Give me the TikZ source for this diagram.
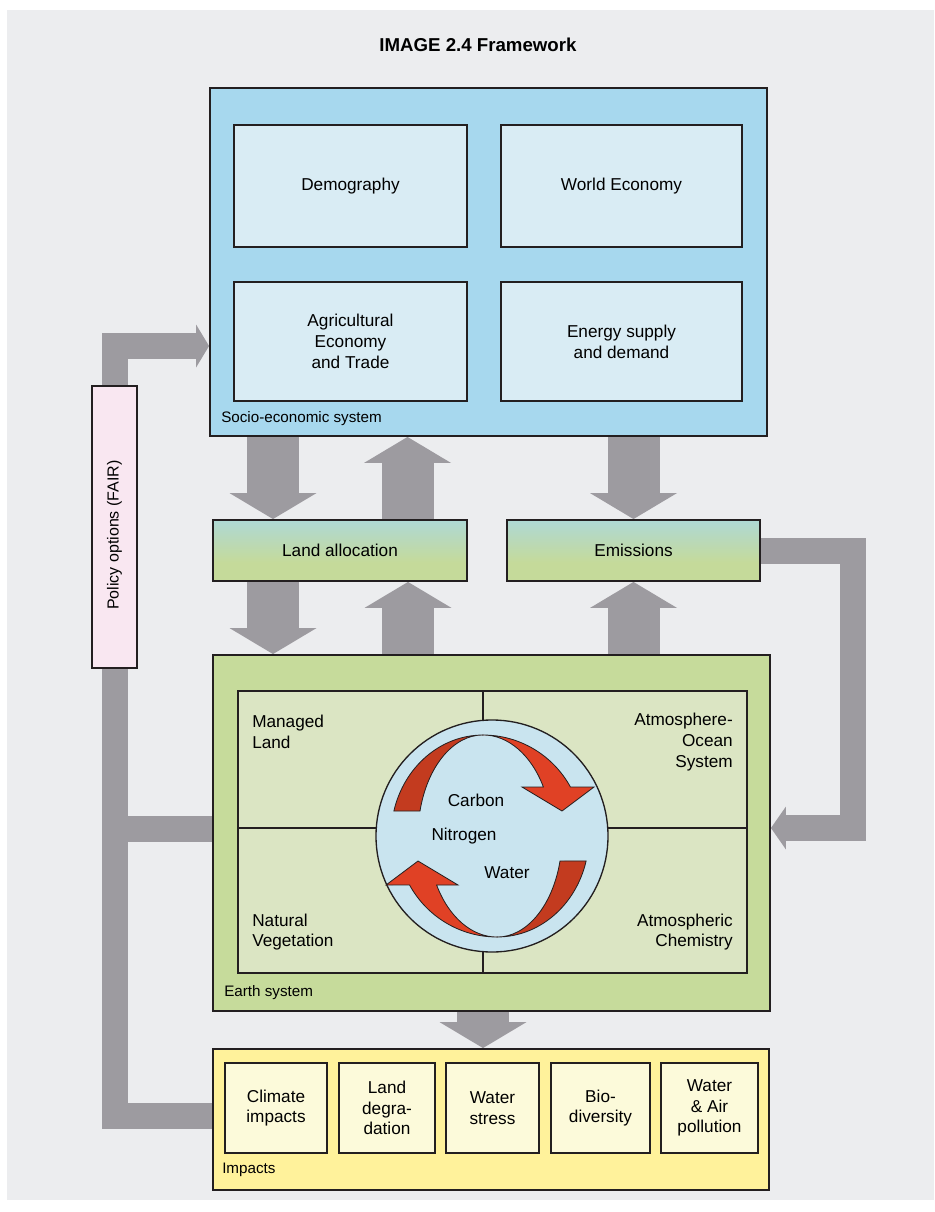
\documentclass[tikz,border=0pt]{standalone}
\usepackage{fontspec}
\setmainfont{Liberation Sans}
\usetikzlibrary{arrows.meta}

\definecolor{bggray}{HTML}{ECEDEF}
\definecolor{edge}{HTML}{231F20}
\definecolor{socioblue}{HTML}{A7D8EE}
\definecolor{paleblue}{HTML}{D9ECF4}
\definecolor{earthgreen}{HTML}{C6DB9B}
\definecolor{palegreen}{HTML}{DBE5C3}
\definecolor{cycleblue}{HTML}{C9E4EF}
\definecolor{impyellow}{HTML}{FFF29B}
\definecolor{palyellow}{HTML}{FCFADA}
\definecolor{policypink}{HTML}{F9E7F1}
\definecolor{flowgray}{HTML}{9D9BA0}
\definecolor{brightred}{HTML}{E04125}
\definecolor{darkred}{HTML}{C33B1F}
\definecolor{skyblue}{HTML}{A6D8EA}
\definecolor{leafgreen}{HTML}{C5DA9A}

\pgfdeclarelayer{bg}
\pgfsetlayers{bg,main}
\pgfdeclareverticalshading{landshade}{100bp}{color(0bp)=(leafgreen); color(40bp)=(leafgreen); color(88bp)=(skyblue); color(100bp)=(skyblue)}

\newcommand\mainsize{\fontsize{12.9pt}{15.6pt}\selectfont}
\newcommand\tagsize{\fontsize{11.4pt}{13pt}\selectfont}

\tikzset{
  box/.style={draw=edge,line width=1.4pt,inner sep=0pt,align=center,font=\mainsize},
  tag/.style={anchor=west,inner sep=0pt,font=\tagsize},
  fat/.style={draw=flowgray,line width=39pt,
    -{Triangle[length=19.5pt 0,width=65.25pt 0,line width=0pt]}},
  band/.style={draw=flowgray,line width=19.5pt,line join=miter},
  bandtip/.style={-{Triangle[length=#1 0,width=32.25pt 0,line width=0pt]}},
  redarrow/.style={draw=edge,line width=0.6pt,line join=miter}
}

\begin{document}
\begin{tikzpicture}[x=0.75pt,y=-0.75pt]
\useasboundingbox (0,0) rectangle (934,1212);
\node[font=\fontsize{14pt}{16pt}\selectfont\bfseries] (title) at (478,45) {IMAGE 2.4 Framework};

% socio-economic system
\node[box,fill=socioblue,minimum width=417.75pt,minimum height=261pt] (socio) at (488.5,262) {};
\node[box,fill=paleblue,minimum width=174.75pt,minimum height=91.5pt] (demo) at (350.5,186) {Demography};
\node[box,fill=paleblue,minimum width=180.75pt,minimum height=91.5pt] (econ) at (621.5,186) {World Economy};
\node[box,fill=paleblue,minimum width=174.75pt,minimum height=89.25pt] (agri) at (350.5,341.5) {Agricultural\\Economy\\and Trade};
\node[box,fill=paleblue,minimum width=180.75pt,minimum height=89.25pt] (energy) at (621.5,341.5) {Energy supply\\and demand};
\node[tag] (sociotag) at (221,419) {Socio-economic system};

% policy
\node[box,fill=policypink,minimum width=33.75pt,minimum height=211.5pt] (policy) at (114.5,527) {};
\node[rotate=90,inner sep=0pt,font=\fontsize{12pt}{14pt}\selectfont] (policytext) at (114.5,535) {Policy options (FAIR)};

% land allocation and emissions
\node[box,shading=landshade,minimum width=190.5pt,minimum height=45.75pt] (land) at (340,550.5) {Land allocation};
\node[box,shading=landshade,minimum width=189.75pt,minimum height=45.75pt] (emis) at (633.5,550.5) {Emissions};

% earth system
\node[box,fill=earthgreen,minimum width=417.75pt,minimum height=267pt] (earth) at (491.5,833) {};
\draw[edge,line width=1.4pt,fill=palegreen] (238,691) rectangle (747,973);
\draw[edge,line width=1.1pt] (483,691) -- (483,973) (238,828) -- (747,828);
\node[circle,draw=edge,fill=cycleblue,line width=1pt,minimum size=174pt,inner sep=0pt] (cycle) at (492,836) {};
\foreach \ang in {0,180}{
\begin{scope}[shift={(490,836)},yscale=-1,rotate=\ang]
\filldraw[redarrow,fill=darkred] (-7,101) arc[start angle=90,end angle=165.7,x radius=92,y radius=101]
  -- (-70,25) arc[start angle=165.7,end angle=90,x radius=65,y radius=101] -- cycle;
\filldraw[redarrow,fill=brightred] (-7,101) arc[start angle=90,end angle=29,x radius=100,y radius=101]
  -- (104,49) -- (72,25) -- (32,49) -- (53.4,49)
  arc[start angle=29,end angle=90,x radius=69,y radius=101] -- cycle;
\end{scope}}
\node[font=\mainsize] (carbon) at (476,800) {Carbon};
\node[font=\mainsize] (nitrogen) at (464,836) {Nitrogen};
\node[font=\mainsize] (water) at (507,873) {Water};
\node[anchor=west,align=left,inner sep=0pt,font=\mainsize] (managed) at (252,732) {Managed\\Land};
\node[anchor=east,align=right,inner sep=0pt,font=\mainsize] (ocean) at (733,742) {Atmosphere-\\Ocean\\System};
\node[anchor=west,align=left,inner sep=0pt,font=\mainsize] (natural) at (252,932) {Natural\\Vegetation};
\node[anchor=east,align=right,inner sep=0pt,font=\mainsize] (chem) at (733,932) {Atmospheric\\Chemistry};
\node[tag] (earthtag) at (224,993) {Earth system};

% impacts
\node[box,fill=impyellow,minimum width=417pt,minimum height=105.75pt] (impacts) at (491,1119.5) {};
\foreach \cx/\w/\txt/\nm in {276/76.5/{Climate\\impacts}/clim, 387/72/{Land\\degra-\\dation}/degr,
  492.5/69.75/{Water\\stress}/stress, 600.5/74.25/{Bio-\\diversity}/bio, 709.5/72.75/{Water\\\& Air\\pollution}/pollu}
  \node[box,fill=palyellow,minimum width=\w pt,minimum height=67.5pt] (\nm) at (\cx,1108) {\txt};
\node[tag] (imptag) at (222,1170) {Impacts};

% flows
\begin{pgfonlayer}{bg}
\fill[white] (0,0) rectangle (934,1212);
\fill[bggray] (7,10) rectangle (934,1200);
\draw[fat] (273,0 |- socio.south) -- (273,0 |- land.north);
\draw[fat] (407.5,0 |- land.north) -- (407.5,0 |- socio.south);
\draw[fat] (socio.south -| emis.north) -- (emis.north);
\draw[fat] (273,0 |- land.south) -- (273,0 |- earth.north);
\draw[fat] (408,0 |- earth.north) -- (408,0 |- land.south);
\draw[fat] (earth.north -| emis.south) -- (emis.south);
\draw[fat] (483,0 |- earth.south) -- (483,0 |- impacts.north);
\draw[band,bandtip=9.75pt] (policy.north) |- (socio.west |- 0,346);
\draw[band,bandtip=11.25pt] (emis.east) -| (852.5,828) -- (earth.east |- 0,828);
\draw[band] (impacts.west |- 0,1116) -| (policy.south);
\draw[band] (earth.west |- 0,829) -- (policy.south |- 0,829);
\end{pgfonlayer}
\end{tikzpicture}
\end{document}
